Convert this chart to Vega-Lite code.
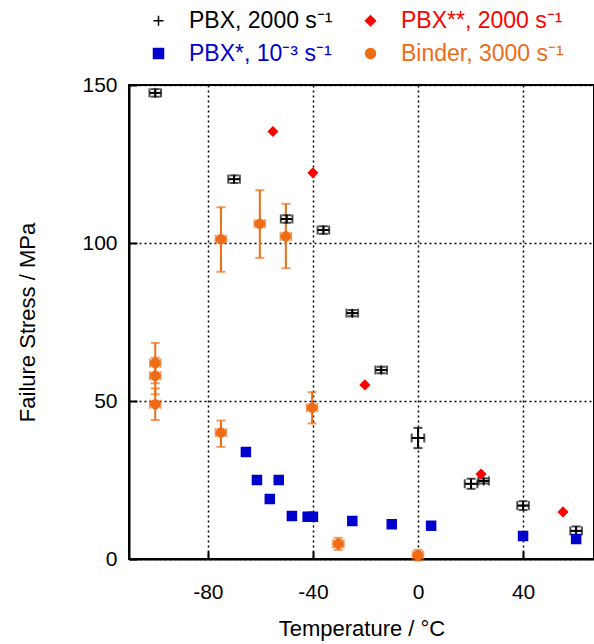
{
  "$schema": "https://vega.github.io/schema/vega-lite/v6.json",
  "autosize": "none",
  "padding": {"left": 129, "top": 85, "right": 0, "bottom": 85},
  "width": 465,
  "height": 474,
  "config": {
    "font": "Liberation Sans",
    "view": {"stroke": "black", "strokeWidth": 2},
    "axis": {
      "labelFont": "Liberation Sans", "labelFontSize": 21, "labelColor": "black",
      "titleFont": "Liberation Sans", "titleFontSize": 22, "titleFontWeight": "normal", "titleColor": "black",
      "domainColor": "black", "domainWidth": 2,
      "gridColor": "black", "gridDash": [2, 3], "gridWidth": 1.5, "gridOpacity": 1,
      "tickColor": "black", "tickWidth": 2, "tickSize": -8,
      "labelExpr": "replace(datum.label, '−', '-')"
    }
  },
  "data": {"values": [
    {"s": "PBX, 2000 s⁻¹", "x": -100, "y": 147.5, "xlo": -102.2, "xhi": -97.8, "ylo": 146.3, "yhi": 148.7},
    {"s": "PBX, 2000 s⁻¹", "x": -70, "y": 120.2, "xlo": -72.2, "xhi": -67.8, "ylo": 119, "yhi": 121.4},
    {"s": "PBX, 2000 s⁻¹", "x": -50, "y": 107.6, "xlo": -52.2, "xhi": -47.8, "ylo": 106.4, "yhi": 108.8},
    {"s": "PBX, 2000 s⁻¹", "x": -36, "y": 104.1, "xlo": -38.2, "xhi": -33.8, "ylo": 102.9, "yhi": 105.3},
    {"s": "PBX, 2000 s⁻¹", "x": -25, "y": 77.8, "xlo": -27.2, "xhi": -22.8, "ylo": 76.8, "yhi": 78.8},
    {"s": "PBX, 2000 s⁻¹", "x": -14, "y": 59.8, "xlo": -16.2, "xhi": -11.8, "ylo": 58.8, "yhi": 60.8},
    {"s": "PBX, 2000 s⁻¹", "x": 0, "y": 38.3, "xlo": -2.4, "xhi": 2.4, "ylo": 35.1, "yhi": 41.5},
    {"s": "PBX, 2000 s⁻¹", "x": 20.2, "y": 23.8, "xlo": 17.8, "xhi": 22.6, "ylo": 22.2, "yhi": 25.4},
    {"s": "PBX, 2000 s⁻¹", "x": 25, "y": 24.7, "xlo": 23, "xhi": 27, "ylo": 23.9, "yhi": 25.5},
    {"s": "PBX, 2000 s⁻¹", "x": 40, "y": 16.9, "xlo": 37.8, "xhi": 42.2, "ylo": 15.5, "yhi": 18.3},
    {"s": "PBX, 2000 s⁻¹", "x": 60.2, "y": 8.9, "xlo": 58, "xhi": 62.4, "ylo": 7.5, "yhi": 10.3},
    {"s": "PBX**, 2000 s⁻¹", "x": -55.2, "y": 135.3},
    {"s": "PBX**, 2000 s⁻¹", "x": -40, "y": 122.2},
    {"s": "PBX**, 2000 s⁻¹", "x": -20.2, "y": 55.1},
    {"s": "PBX**, 2000 s⁻¹", "x": 24, "y": 26.9},
    {"s": "PBX**, 2000 s⁻¹", "x": 55.2, "y": 14.9},
    {"s": "PBX*, 10⁻³ s⁻¹", "x": -65.5, "y": 33.9},
    {"s": "PBX*, 10⁻³ s⁻¹", "x": -61.3, "y": 25},
    {"s": "PBX*, 10⁻³ s⁻¹", "x": -56.4, "y": 19},
    {"s": "PBX*, 10⁻³ s⁻¹", "x": -53, "y": 25},
    {"s": "PBX*, 10⁻³ s⁻¹", "x": -48, "y": 13.6},
    {"s": "PBX*, 10⁻³ s⁻¹", "x": -42, "y": 13.4},
    {"s": "PBX*, 10⁻³ s⁻¹", "x": -40, "y": 13.4},
    {"s": "PBX*, 10⁻³ s⁻¹", "x": -25, "y": 12},
    {"s": "PBX*, 10⁻³ s⁻¹", "x": -10, "y": 11},
    {"s": "PBX*, 10⁻³ s⁻¹", "x": 5, "y": 10.5},
    {"s": "PBX*, 10⁻³ s⁻¹", "x": 40, "y": 7.3},
    {"s": "PBX*, 10⁻³ s⁻¹", "x": 60.2, "y": 6.3},
    {"s": "Binder, 3000 s⁻¹", "x": -100, "y": 62, "xlo": -102, "xhi": -98, "ylo": 55.6, "yhi": 68.4},
    {"s": "Binder, 3000 s⁻¹", "x": -100, "y": 58, "xlo": -102, "xhi": -98, "ylo": 52.1, "yhi": 63.7},
    {"s": "Binder, 3000 s⁻¹", "x": -100, "y": 49, "xlo": -102, "xhi": -98, "ylo": 44, "yhi": 54},
    {"s": "Binder, 3000 s⁻¹", "x": -75, "y": 101.2, "xlo": -77, "xhi": -73, "ylo": 90.9, "yhi": 111.3},
    {"s": "Binder, 3000 s⁻¹", "x": -60.2, "y": 106.1, "xlo": -62.2, "xhi": -58.2, "ylo": 95.3, "yhi": 116.7},
    {"s": "Binder, 3000 s⁻¹", "x": -50.3, "y": 102.1, "xlo": -52.3, "xhi": -48.3, "ylo": 92, "yhi": 112.4},
    {"s": "Binder, 3000 s⁻¹", "x": -40.3, "y": 47.9, "xlo": -42.3, "xhi": -38.3, "ylo": 42.9, "yhi": 52.8},
    {"s": "Binder, 3000 s⁻¹", "x": -75, "y": 40, "xlo": -77, "xhi": -73, "ylo": 35.5, "yhi": 43.8},
    {"s": "Binder, 3000 s⁻¹", "x": -30.3, "y": 4.8, "xlo": -32.3, "xhi": -28.3, "ylo": 2.9, "yhi": 6.7},
    {"s": "Binder, 3000 s⁻¹", "x": 0, "y": 1.2, "xlo": -2, "xhi": 2, "ylo": -0.5, "yhi": 2.9}
  ]},
  "encoding": {
    "color": {
      "field": "s", "type": "nominal",
      "scale": {"domain": ["PBX, 2000 s⁻¹", "PBX*, 10⁻³ s⁻¹", "PBX**, 2000 s⁻¹", "Binder, 3000 s⁻¹"],
                "range": ["#000000", "#0000cc", "#ff0000", "#ef6c16"]},
      "legend": {
        "title": null, "orient": "none", "legendX": 18, "legendY": -76,
        "columns": 2, "columnPadding": 26, "rowPadding": 9,
        "labelFont": "Liberation Sans", "labelFontSize": 23, "labelOffset": 19, "symbolSize": 100,
        "symbolOpacity": 1, "labelLimit": 300,
        "encode": {
          "labels": {"update": {"fill": {"scale": "color", "field": "value"}}},
          "symbols": {"update": {"fill": {"scale": "color", "field": "value"}, "stroke": {"scale": "color", "field": "value"}, "strokeWidth": {"value": 1.5}, "opacity": {"value": 1}}}
        }
      }
    }
  },
  "layer": [
    {
      "transform": [{"filter": "isValid(datum.ylo)"}],
      "mark": {"type": "rule", "strokeWidth": 2},
      "encoding": {
        "x": {"field": "x", "type": "quantitative"},
        "y": {"field": "ylo", "type": "quantitative"},
        "y2": {"field": "yhi"}
      }
    },
    {
      "transform": [{"filter": "isValid(datum.ylo)"}],
      "mark": {"type": "rule", "strokeWidth": 2},
      "encoding": {
        "x": {"field": "xlo", "type": "quantitative"},
        "x2": {"field": "xhi"},
        "y": {"field": "y", "type": "quantitative"}
      }
    },
    {
      "transform": [{"filter": "isValid(datum.ylo)"}],
      "mark": {"type": "tick", "orient": "horizontal", "size": 9, "thickness": 2},
      "encoding": {
        "x": {"field": "x", "type": "quantitative"},
        "y": {"field": "ylo", "type": "quantitative"}
      }
    },
    {
      "transform": [{"filter": "isValid(datum.ylo)"}],
      "mark": {"type": "tick", "orient": "horizontal", "size": 9, "thickness": 2},
      "encoding": {
        "x": {"field": "x", "type": "quantitative"},
        "y": {"field": "yhi", "type": "quantitative"}
      }
    },
    {
      "transform": [{"filter": "isValid(datum.ylo)"}],
      "mark": {"type": "tick", "orient": "vertical", "size": 9, "thickness": 2},
      "encoding": {
        "x": {"field": "xlo", "type": "quantitative"},
        "y": {"field": "y", "type": "quantitative"}
      }
    },
    {
      "transform": [{"filter": "isValid(datum.ylo)"}],
      "mark": {"type": "tick", "orient": "vertical", "size": 9, "thickness": 2},
      "encoding": {
        "x": {"field": "xhi", "type": "quantitative"},
        "y": {"field": "y", "type": "quantitative"}
      }
    },
    {
      "mark": {"type": "point", "filled": true, "opacity": 1, "strokeWidth": 1.5},
      "encoding": {
        "x": {"field": "x", "type": "quantitative",
              "scale": {"domain": [-110, 67], "nice": false, "zero": false},
              "axis": {"values": [-80, -40, 0, 40], "title": "Temperature / °C", "labelPadding": 30, "titlePadding": 16}},
        "y": {"field": "y", "type": "quantitative",
              "scale": {"domain": [0, 150], "nice": false},
              "axis": {"values": [0, 50, 100, 150], "title": "Failure Stress / MPa", "labelPadding": 20, "titlePadding": 42}},
        "shape": {
          "field": "s", "type": "nominal",
          "scale": {"domain": ["PBX, 2000 s⁻¹", "PBX*, 10⁻³ s⁻¹", "PBX**, 2000 s⁻¹", "Binder, 3000 s⁻¹"],
                    "range": ["M-1,0H1M0,-1V1", "square", "diamond", "circle"]}
        },
        "stroke": {
          "field": "s", "type": "nominal",
          "scale": {"domain": ["PBX, 2000 s⁻¹", "PBX*, 10⁻³ s⁻¹", "PBX**, 2000 s⁻¹", "Binder, 3000 s⁻¹"],
                    "range": ["#000000", "#0000cc", "#ff0000", "#ef6c16"]},
          "legend": null
        },
        "size": {"value": 81}
      }
    }
  ]
}
